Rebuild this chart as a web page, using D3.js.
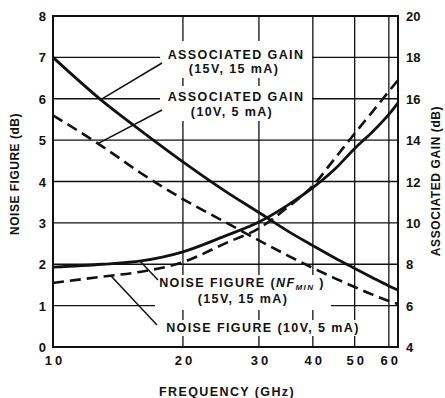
<!DOCTYPE html>
<html>
<head>
<meta charset="UTF-8">
<title>Noise figure and associated gain</title>
<style>
  body { margin: 0; background: #fff; }
  svg text { font-family: "Liberation Sans", Arial, sans-serif; font-weight: bold; fill: #111; }
  .grid line { stroke: #111; stroke-width: 1.3px; }
  .curve { fill: none; stroke: #111; }
</style>
</head>
<body>
<svg id="chart" width="445" height="398"></svg>
<script src="https://cdn.jsdelivr.net/npm/d3@7"></script>
<script>
  "use strict";

  // frequency points (GHz)
  var freq   = [10, 13, 16, 20, 25, 30, 35, 40, 45, 50, 55, 60, 63];
  // associated gain (dB, right axis)
  var gain15 = [18.0, 15.9, 14.45, 12.95, 11.55, 10.5, 9.6, 8.9, 8.3, 7.8, 7.35, 6.95, 6.75];
  var gain10 = [15.2, 13.7, 12.4, 11.15, 10.05, 9.15, 8.42, 7.82, 7.32, 6.9, 6.53, 6.22, 6.08];
  // noise figure (dB, left axis)
  var nf15   = [1.93, 2.0, 2.08, 2.3, 2.68, 3.02, 3.43, 3.85, 4.3, 4.8, 5.2, 5.62, 5.9];
  var nf10   = [1.55, 1.7, 1.82, 2.05, 2.5, 2.87, 3.38, 3.9, 4.56, 5.16, 5.69, 6.18, 6.45];

  var xTicks  = [10, 20, 30, 40, 50, 60];
  var nfTicks = [0, 1, 2, 3, 4, 5, 6, 7, 8];
  var gTicks  = [4, 6, 8, 10, 12, 14, 16, 18, 20];

  var svg = d3.select("#chart");
  var pLeft = 53, pRight = 398, pTop = 16, pBottom = 347;

  var x  = d3.scaleLog().domain([10, 63]).range([pLeft, pRight]);
  var yL = d3.scaleLinear().domain([0, 8]).range([pBottom, pTop]);
  var yR = d3.scaleLinear().domain([4, 20]).range([pBottom, pTop]);

  // grid
  var grid = svg.append("g").attr("class", "grid");
  grid.selectAll(".h").data(nfTicks.slice(1, -1)).enter().append("line")
    .attr("x1", pLeft).attr("x2", pRight)
    .attr("y1", function(d){ return yL(d); }).attr("y2", function(d){ return yL(d); });
  grid.selectAll(".v").data(xTicks.slice(1)).enter().append("line")
    .attr("y1", pTop).attr("y2", pBottom)
    .attr("x1", function(d){ return x(d); }).attr("x2", function(d){ return x(d); });

  // interpolate a curve value at frequency f (for leader lines)
  function at(arr, f){
    var i = d3.bisectRight(freq, f) - 1;
    i = Math.max(0, Math.min(freq.length - 2, i));
    var t = (Math.log(f) - Math.log(freq[i])) / (Math.log(freq[i+1]) - Math.log(freq[i]));
    return arr[i] + t * (arr[i+1] - arr[i]);
  }

  // label blocks with white backgrounds
  var labels = [
    { box: [160, 41, 152, 37], lines: [["ASSOCIATED GAIN", 236, 59], ["(15V, 15 mA)", 234, 73]] },
    { box: [160, 86, 152, 35], lines: [["ASSOCIATED GAIN", 236, 101], ["(10V, 5 mA)", 232, 116]] },
    { box: [155, 275, 176, 35], lines: [["(15V, 15 mA)", 243, 303]] },
    { box: [160, 320, 206, 16], lines: [["NOISE FIGURE (10V, 5 mA)", 263, 332]] }
  ];
  labels.forEach(function(l){
    svg.append("rect").attr("x", l.box[0]).attr("y", l.box[1])
      .attr("width", l.box[2]).attr("height", l.box[3]).attr("fill", "#fff");
  });
  labels.forEach(function(l){
    l.lines.forEach(function(t){
      svg.append("text").attr("x", t[1]).attr("y", t[2])
        .attr("text-anchor", "middle").style("font-size", "12.5px")
        .style("letter-spacing", "1.4px").text(t[0]);
    });
  });
  var nfmin = svg.append("text").attr("x", 242).attr("y", 287)
    .attr("text-anchor", "middle").style("font-size", "12.5px").style("letter-spacing", "1.4px");
  nfmin.append("tspan").text("NOISE FIGURE (");
  nfmin.append("tspan").style("font-style", "italic").text("NF");
  nfmin.append("tspan").attr("dy", 3).style("font-size", "8px").style("font-style", "italic").text("MIN");
  nfmin.append("tspan").attr("dy", -3).text(" )");

  // leader lines
  var leaders = [
    [162, 63, 12.9, gain15, yR],
    [162, 110, 12.7, gain10, yR],
    [158, 280, 15.9, nf15, yL],
    [157, 325, 13.6, nf10, yL]
  ];
  svg.selectAll(".leader").data(leaders).enter().append("line")
    .attr("stroke", "#111").attr("stroke-width", 1.5)
    .attr("x1", function(d){ return d[0]; }).attr("y1", function(d){ return d[1]; })
    .attr("x2", function(d){ return x(d[2]); })
    .attr("y2", function(d){ return d[4](at(d[3], d[2])); });

  // curves
  function draw(arr, ys, dashed){
    var line = d3.line().curve(d3.curveMonotoneX)
      .x(function(d, i){ return x(freq[i]); })
      .y(function(d){ return ys(d); });
    svg.append("path").datum(arr).attr("class", "curve").attr("d", line)
      .attr("stroke-width", dashed ? 2.6 : 2.8)
      .attr("stroke-dasharray", dashed ? "11,6" : null);
  }
  draw(gain15, yR, false);
  draw(gain10, yR, true);
  draw(nf15, yL, false);
  draw(nf10, yL, true);

  // frame
  svg.append("rect").attr("x", pLeft).attr("y", pTop)
    .attr("width", pRight - pLeft).attr("height", pBottom - pTop)
    .attr("fill", "none").attr("stroke", "#111").attr("stroke-width", 2);

  // tick labels
  svg.selectAll(".lt").data(nfTicks).enter().append("text")
    .attr("x", 46).attr("y", function(d){ return yL(d) + 5; })
    .attr("text-anchor", "end").style("font-size", "13px").text(function(d){ return d; });
  svg.selectAll(".rt").data(gTicks).enter().append("text")
    .attr("x", 406).attr("y", function(d){ return yR(d) + 5; })
    .style("font-size", "13px").text(function(d){ return d; });
  svg.selectAll(".xt").data(xTicks).enter().append("text")
    .attr("x", function(d){ return x(d) + 2; }).attr("y", 365)
    .attr("text-anchor", "middle").style("font-size", "13px")
    .style("letter-spacing", "3px").text(function(d){ return d; });

  // axis titles
  svg.append("text").attr("x", 227).attr("y", 396).attr("text-anchor", "middle")
    .style("font-size", "12.5px").style("letter-spacing", "1.4px").text("FREQUENCY (GHz)");
  svg.append("text").attr("transform", "translate(19,174) rotate(-90)")
    .attr("text-anchor", "middle").style("font-size", "12px")
    .style("letter-spacing", "0.5px").text("NOISE FIGURE (dB)");
  svg.append("text").attr("transform", "translate(440,181) rotate(-90)")
    .attr("text-anchor", "middle").style("font-size", "12px")
    .style("letter-spacing", "0.6px").text("ASSOCIATED GAIN (dB)");
</script>
</body>
</html>
